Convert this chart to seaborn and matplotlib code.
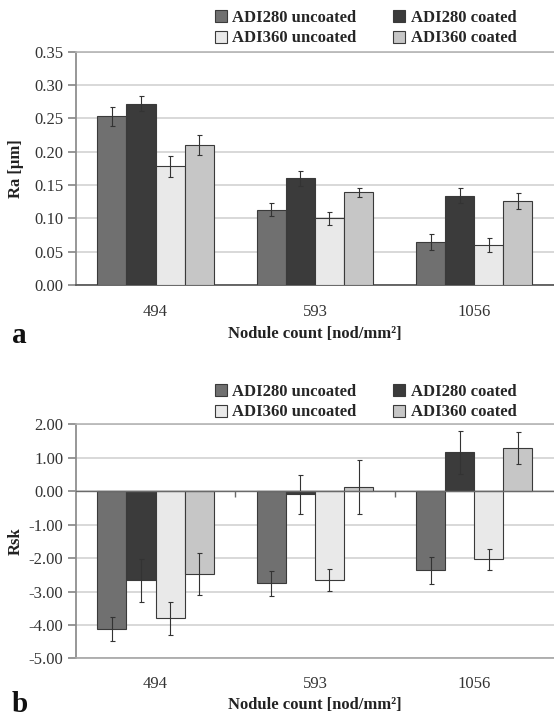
import numpy as np
import pandas as pd
import matplotlib
matplotlib.use("Agg")
import matplotlib.pyplot as plt
import seaborn as sns

categories = ["494", "593", "1056"]
series = ["ADI280 uncoated", "ADI280 coated", "ADI360 uncoated", "ADI360 coated"]
colors = ["#707070", "#3b3b3b", "#e9e9e9", "#c6c6c6"]

# panel a: Ra [um]
ra_280u = [0.253, 0.113, 0.064]
ra_280c = [0.272, 0.160, 0.134]
ra_360u = [0.178, 0.100, 0.060]
ra_360c = [0.210, 0.139, 0.126]
ra_err_280u = [0.014, 0.010, 0.012]
ra_err_280c = [0.011, 0.011, 0.011]
ra_err_360u = [0.016, 0.010, 0.011]
ra_err_360c = [0.015, 0.007, 0.012]

# panel b: Rsk
rsk_280u = [-4.12, -2.75, -2.36]
rsk_280c = [-2.67, -0.09, 1.16]
rsk_360u = [-3.80, -2.66, -2.04]
rsk_360c = [-2.47, 0.12, 1.29]
rsk_err_280u = [0.37, 0.37, 0.40]
rsk_err_280c = [0.63, 0.58, 0.64]
rsk_err_360u = [0.50, 0.32, 0.32]
rsk_err_360c = [0.62, 0.81, 0.48]

ra_ticks = [0.00, 0.05, 0.10, 0.15, 0.20, 0.25, 0.30, 0.35]
rsk_ticks = [-5.0, -4.0, -3.0, -2.0, -1.0, 0.0, 1.0, 2.0]


def long_frame(vals, errs):
    rows = []
    for s, v, e in zip(series, vals, errs):
        for c, vv, ee in zip(categories, v, e):
            rows.append({"count": c, "series": s, "value": vv, "err": ee})
    return pd.DataFrame(rows)


df_a = long_frame([ra_280u, ra_280c, ra_360u, ra_360c],
                  [ra_err_280u, ra_err_280c, ra_err_360u, ra_err_360c])
df_b = long_frame([rsk_280u, rsk_280c, rsk_360u, rsk_360c],
                  [rsk_err_280u, rsk_err_280c, rsk_err_360u, rsk_err_360c])

sns.set_theme(style="white")
plt.rcParams["font.family"] = ["Liberation Serif", "DejaVu Serif"]
plt.rcParams["axes.unicode_minus"] = False

fig = plt.figure(figsize=(5.54, 7.18), dpi=100)
ax_a = fig.add_axes([0.137, 0.603, 0.863, 0.325])
ax_b = fig.add_axes([0.137, 0.083, 0.863, 0.326])


def draw_panel(ax, df, ticks, ylabel, letter, letter_y, legend_y, zero_axis):
    sns.barplot(data=df, x="count", y="value", hue="series", order=categories,
                hue_order=series, palette=colors, width=0.73, errorbar=None,
                edgecolor="#3a3a3a", linewidth=0.8, saturation=1, ax=ax, zorder=3)
    for cont, s in zip(ax.containers, series):
        sub = df[df["series"] == s].set_index("count").loc[categories]
        xs = [b.get_x() + b.get_width() / 2 for b in cont]
        ax.errorbar(xs, sub["value"].values, yerr=sub["err"].values, fmt="none",
                    ecolor="#333333", elinewidth=0.8, capsize=1.8, capthick=0.8,
                    zorder=4)

    ax.set_ylim(ticks[0], ticks[-1])
    ax.set_yticks(ticks)
    ax.set_yticklabels(["{:.2f}".format(t) for t in ticks])
    ax.set_xlim(-0.5, len(categories) - 0.5)
    ax.yaxis.grid(True, color="#d2d2d2", linewidth=1.2, zorder=0)
    ax.set_axisbelow(True)
    ax.spines["right"].set_visible(False)
    ax.spines["top"].set_color("#b4b4b4")
    ax.spines["top"].set_linewidth(1.2)
    ax.spines["left"].set_color("#8a8a8a")
    ax.tick_params(axis="y", left=True, length=5.5, color="#8a8a8a",
                   labelsize=12, labelcolor="#333333", pad=3.5)
    ax.tick_params(axis="x", which="major", length=0, labelsize=12,
                   labelcolor="#333333", pad=14)
    bounds = np.arange(len(categories) + 1) - 0.5
    if zero_axis:
        ax.spines["bottom"].set_color("#a8a8a8")
        ax.axhline(0, color="#6a6a6a", linewidth=1.0, zorder=5)
        ax.vlines(bounds[1:-1], 0, -0.18, color="#6a6a6a", linewidth=1.0, zorder=5)
        ax.tick_params(axis="x", which="major", pad=13)
        xpad = 3
    else:
        ax.spines["bottom"].set_color("#555555")
        ax.set_xticks(bounds, minor=True)
        ax.tick_params(axis="x", which="minor", length=5, color="#555555")
        xpad = 4
    ax.set_xlabel("Nodule count [nod/mm²]", fontsize=12, fontweight="bold",
                  color="#222222", labelpad=xpad)
    ax.set_ylabel(ylabel, fontsize=12, fontweight="bold", color="#222222")
    ax.yaxis.set_label_coords(-0.108, 0.5)

    handles, labels = ax.get_legend_handles_labels()
    ax.get_legend().remove()
    order = [0, 2, 1, 3]
    fig.legend([handles[i] for i in order], [labels[i] for i in order],
               ncol=2, loc="upper left",
               bbox_to_anchor=(0.388, legend_y),
               frameon=False, handlelength=0.7, handleheight=0.7,
               handletextpad=0.35, columnspacing=2.2, labelspacing=0.27,
               borderpad=0, borderaxespad=0,
               prop={"family": "Liberation Serif", "weight": "bold", "size": 12})
    fig.text(0.021, letter_y, letter, fontsize=21, fontweight="bold",
             color="#111111", ha="left", va="center")


draw_panel(ax_a, df_a, ra_ticks, "Ra [μm]", "a", 1 - 335 / 718, 1 - 10 / 718, False)
draw_panel(ax_b, df_b, rsk_ticks, "Rsk", "b", 1 - 705 / 718, 1 - 384 / 718, True)

fig.savefig("out.png", dpi=100, facecolor="white")
